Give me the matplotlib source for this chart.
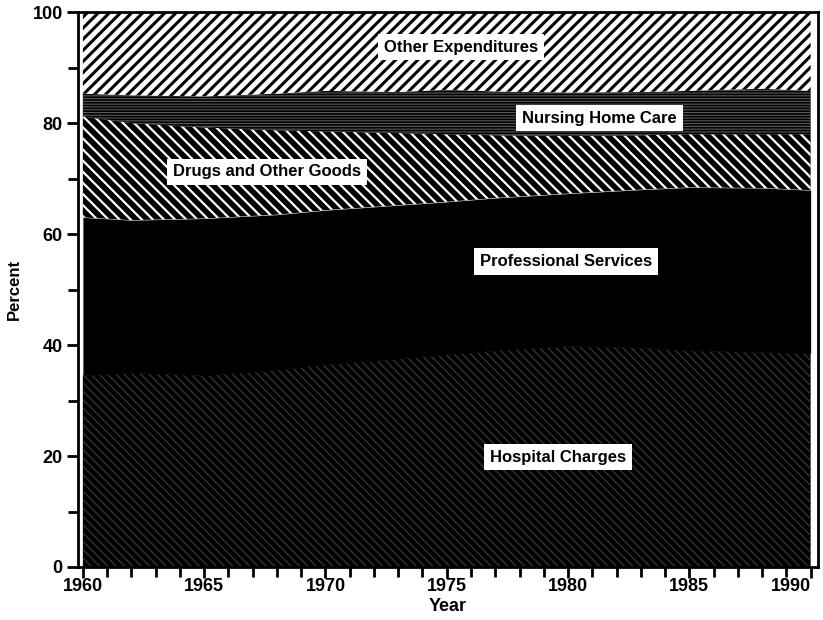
import matplotlib
matplotlib.use('Agg')
from matplotlib import pyplot as plt
import matplotlib.ticker as mticker

plt.rcParams['font.family'] = ['Liberation Sans', 'DejaVu Sans']
plt.rcParams['font.weight'] = 'bold'
plt.rcParams['hatch.linewidth'] = 2.0

# share of spending (percent)
years = [1960, 1962, 1965, 1968, 1970, 1973, 1975, 1977, 1980, 1983, 1985, 1988, 1990]
hospital = [34.5, 35.0, 34.5, 35.5, 36.5, 37.5, 38.3, 39.0, 39.8, 39.5, 39.0, 38.7, 38.5]
professional = [28.5, 27.5, 28.3, 28.0, 27.8, 27.7, 27.5, 27.5, 27.5, 28.5, 29.4, 29.6, 29.4]
drugs = [18.2, 17.5, 16.4, 15.2, 14.2, 13.0, 12.2, 11.3, 10.4, 9.8, 9.6, 9.7, 10.1]
nursing = [4.1, 5.0, 5.6, 6.6, 7.3, 7.4, 8.0, 7.9, 7.8, 7.8, 7.8, 8.2, 7.8]
other = [14.7, 15.0, 15.2, 14.7, 14.2, 14.4, 14.0, 14.3, 14.5, 14.4, 14.2, 13.8, 14.2]

labels = ['Hospital Charges', 'Professional Services', 'Drugs and Other Goods',
          'Nursing Home Care', 'Other Expenditures']
faces = ['black', 'black', 'black', 'black', 'white']
hatch_cols = ['#333333', 'black', 'white', '#5a5a5a', 'black']
hatches = ['\\\\\\\\', None, '\\\\\\', '------', '///']
hatch_lw = [1.0, 1.0, 1.6, 0.8, 2.2]
# where the label boxes sit (year, percent)
label_pos = [(1979.6, 19.8), (1979.9, 55.0), (1967.6, 71.2), (1981.3, 80.9), (1975.6, 93.7)]

fig = plt.figure(figsize=(8.23, 6.2), dpi=100)
ax = fig.add_axes([0.0948, 0.0855, 0.899, 0.895])

polys = ax.stackplot(years, hospital, professional, drugs, nursing, other)
for p, fc, hc, h, hl in zip(polys, faces, hatch_cols, hatches, hatch_lw):
    p.set_facecolor(fc)
    p.set_edgecolor(hc)
    p.set_linewidth(0)
    if h:
        p.set_hatch(h)
        if hasattr(p, 'set_hatch_linewidth'):
            p.set_hatch_linewidth(hl)

for txt, (x, y) in zip(labels, label_pos):
    ax.text(x, y, txt, ha='center', va='center', fontsize=12, fontweight='bold',
            color='black',
            bbox=dict(boxstyle='square,pad=0.35', facecolor='white', edgecolor='none'))

ax.set_xlim(1959.8, 1990.3)
ax.set_ylim(0, 100)
ax.xaxis.set_major_locator(mticker.MultipleLocator(5))
ax.xaxis.set_minor_locator(mticker.MultipleLocator(1))
ax.yaxis.set_major_locator(mticker.MultipleLocator(20))
ax.yaxis.set_minor_locator(mticker.MultipleLocator(10))
ax.tick_params(which='major', direction='out', length=8, width=2, labelsize=13, pad=3)
ax.tick_params(which='minor', direction='out', length=7, width=2)
ax.tick_params(axis='x', which='major', pad=0)
ax.tick_params(top=False, right=False)
for lbl in ax.get_xticklabels() + ax.get_yticklabels():
    lbl.set_fontweight('bold')
# last year label is pushed in so it stays inside the picture
fig.canvas.draw()
for t, l in zip(ax.get_xticks(), ax.get_xticklabels()):
    if t == 1990:
        l.set_horizontalalignment('right')

for s in ax.spines.values():
    s.set_linewidth(2)

ax.set_xlabel('Year', fontsize=13, fontweight='bold', labelpad=2)
ax.set_ylabel('Percent', fontsize=12, fontweight='bold', labelpad=8)

fig.savefig('out.png', dpi=100)
